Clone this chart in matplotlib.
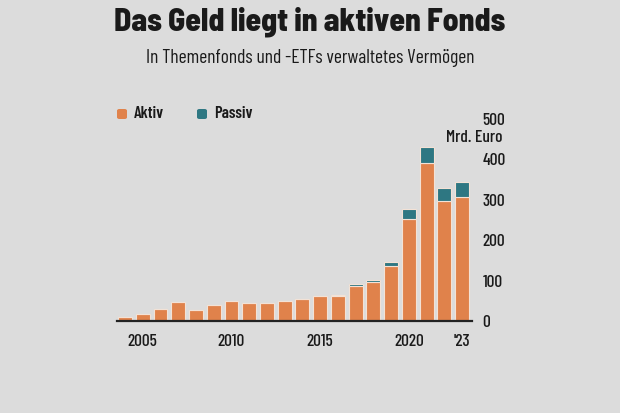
import matplotlib
matplotlib.use("Agg")
import matplotlib.pyplot as plt
from matplotlib.patches import FancyBboxPatch

years = list(range(2004, 2024))
aktiv = [10, 18, 29, 46, 26, 40, 50, 44, 44, 50, 54, 61, 62, 86, 96, 137, 252, 390, 297, 306]
passiv = [0, 0, 0, 0, 0, 0, 0, 0, 0, 0, 0, 0, 2, 5, 6, 9, 25, 41, 33, 38]
xtick_years = [2005, 2010, 2015, 2020, 2023]
xtick_labels = ["2005", "2010", "2015", "2020", "'23"]
yticks = [0, 100, 200, 300, 400, 500]

BG = "#dcdcdc"
ORANGE = "#e0824b"
TEAL = "#2e7782"
EDGE = "#f3e2d6"
TXT = "#1a1a1a"
COND = ["Barlow Condensed", "DejaVu Sans"]
SEMI = ["Barlow Semi Condensed", "DejaVu Sans"]

plt.rcParams["font.family"] = COND

fig = plt.figure(figsize=(6.2, 4.13), dpi=100, facecolor=BG)
ax = fig.add_axes([117/620, (413-321)/413, 355/620, (321-119)/413])
ax.set_facecolor(BG)

w = 0.78
ax.bar(years, aktiv, width=w, color=ORANGE, edgecolor=EDGE, linewidth=0.8, zorder=2)
ax.bar(years, passiv, bottom=aktiv, width=w, color=TEAL, edgecolor=EDGE, linewidth=0.8, zorder=2)

ax.set_xlim(2003.55, 2023.56)
ax.set_ylim(0, 500)
for s in ["top", "left", "right"]:
    ax.spines[s].set_visible(False)
ax.spines["bottom"].set_color("#222222")
ax.spines["bottom"].set_linewidth(1.6)
ax.spines["bottom"].set_zorder(3)

ax.set_xticks(xtick_years)
ax.set_xticklabels(xtick_labels, fontsize=12.5, color=TXT, fontweight=500)
ax.tick_params(axis="x", length=0, pad=9)
ax.yaxis.tick_right()
ax.set_yticks(yticks)
ax.set_yticklabels([str(v) for v in yticks], fontsize=12.5, color=TXT, ha="left", fontweight=500)
ax.tick_params(axis="y", length=0, pad=7.5)

fig.text(502/620, 1-137/413, "Mrd. Euro", fontsize=12.5, ha="right", va="center", color=TXT,
         fontweight=500)

fig.text(0.5, 1-22/413, "Das Geld liegt in aktiven Fonds", fontsize=22.7, fontweight=800,
         family=SEMI, ha="center", va="center", color=TXT)
fig.text(0.5, 1-58/413, "In Themenfonds und -ETFs verwaltetes Vermögen", fontsize=14,
         ha="center", va="center", color=TXT, fontweight=400)

# legend
for x0, col, lab in [(117, ORANGE, "Aktiv"), (197, TEAL, "Passiv")]:
    p = FancyBboxPatch((x0/620, 1-119/413), 10/620, 10/413,
                       boxstyle="round,pad=0,rounding_size=0.004",
                       transform=fig.transFigure, facecolor=col, edgecolor="none")
    fig.patches.append(p)
    fig.text((x0+17)/620, 1-114/413, lab, fontsize=12, fontweight=600, ha="left", va="center",
             color=TXT)

fig.savefig("out.png", dpi=100, facecolor=BG)
